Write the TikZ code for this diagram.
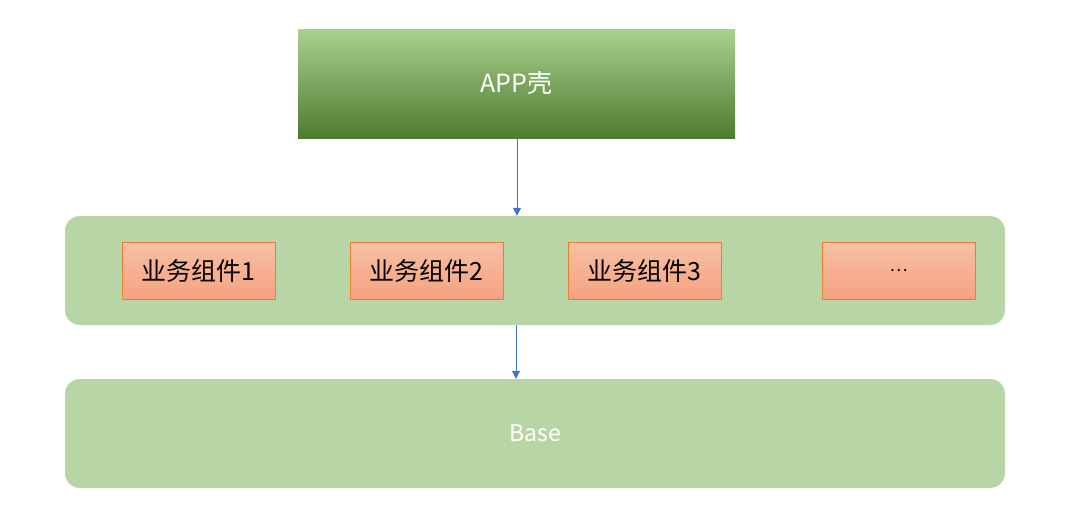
\documentclass[tikz,border=0pt]{standalone}
\usepackage{fontspec}
\setmainfont{Noto Sans CJK SC}
\usetikzlibrary{arrows.meta,shadings}
\definecolor{gtop}{HTML}{A9D18E}
\definecolor{gmid}{HTML}{70AD47}
\definecolor{gbot}{HTML}{4E7B30}
\definecolor{lgreen}{HTML}{B8D6A5}
\definecolor{otop}{HTML}{F8BFA4}
\definecolor{obot}{HTML}{F5A37F}
\definecolor{oborder}{HTML}{ED7D31}
\definecolor{arrowblue}{HTML}{4472C4}
\tikzset{
  shellbox/.style={rectangle, minimum width=437pt, minimum height=109pt, inner sep=0pt,
    top color=gtop, middle color=gmid, bottom color=gbot, text=white,
    font=\fontsize{25pt}{29pt}\selectfont},
  layerbox/.style={rectangle, rounded corners=15pt, minimum width=940pt, minimum height=109pt,
    inner sep=0pt, fill=lgreen},
  compbox/.style={rectangle, minimum width=153pt, minimum height=57pt, inner sep=0pt,
    top color=otop, bottom color=obot, draw=oborder, line width=1pt, text=black,
    font=\fontsize{25pt}{29pt}\selectfont},
  link/.style={draw=arrowblue, line width=1pt, -{Triangle[width=8pt,length=8pt]}}
}
\begin{document}
\begin{tikzpicture}[x=1pt,y=-1pt]
\useasboundingbox (0,0) rectangle (1078,517);
\node[shellbox] (shell) at (516.5,83.5) {APP壳};
\node[layerbox] (biz) at (535,270.5) {};
\node[layerbox, text=white, font=\fontsize{23pt}{27pt}\selectfont] (base) at (535,433.5) {Base};
\node[compbox] (c1) at (198.5,270.5) {业务组件1};
\node[compbox] (c2) at (426.5,270.5) {业务组件2};
\node[compbox] (c3) at (644.5,270.5) {业务组件3};
\node[compbox, font=\fontsize{17pt}{20pt}\selectfont] (c4) at (898.5,270.5) {…};
\draw[link] (shell.south -| 517,0) -- (biz.north -| 517,0);
\draw[link] (biz.south -| 516,0) -- (base.north -| 516,0);
\end{tikzpicture}
\end{document}
